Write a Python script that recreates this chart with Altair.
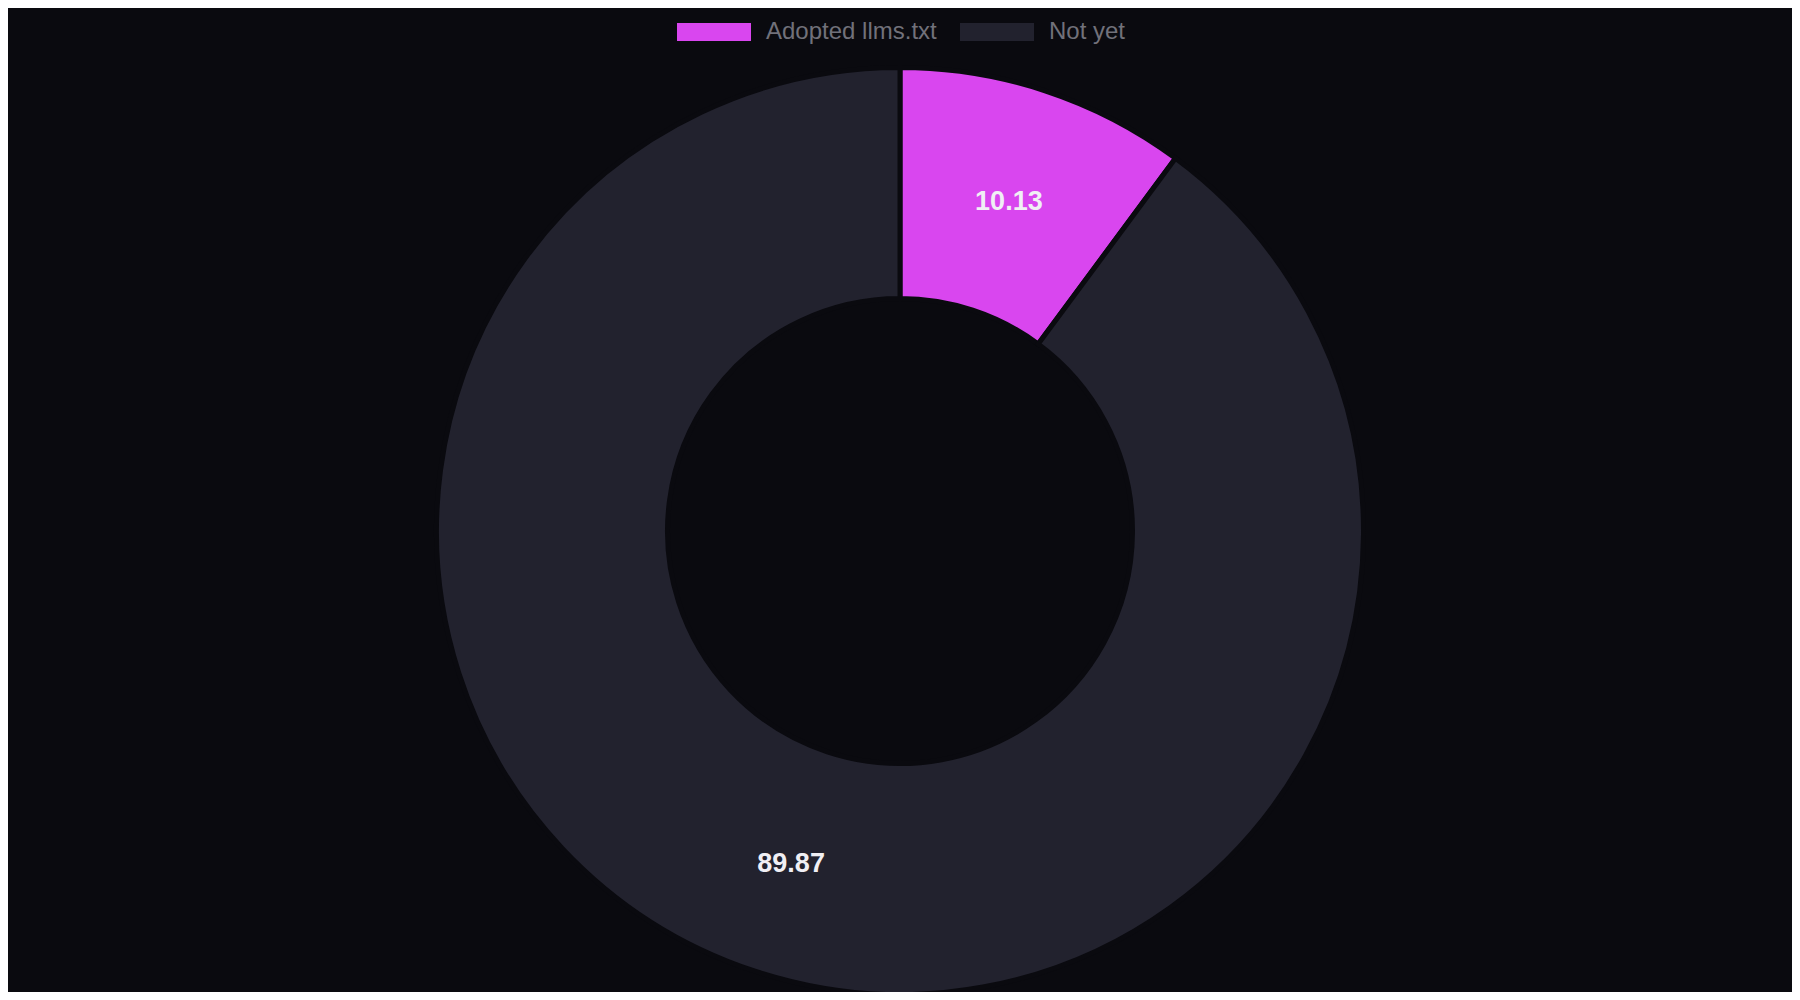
import altair as alt
import pandas as pd

categories = ["Adopted llms.txt", "Not yet"]
values = [10.13, 89.87]
colors = ["#d946ef", "#22222e"]
order = [0, 1]

df = pd.DataFrame({"category": categories, "value": values, "order": order})

BG = "#0a0a0f"
CX, CY = 892, 523

legend = alt.Legend(
    orient="none",
    legendX=669,
    legendY=-13,
    direction="horizontal",
    title=None,
    symbolType="M-1,-0.243H1V0.243H-1Z",
    symbolSize=5476,
    symbolStrokeWidth=0,
    labelFontSize=24,
    labelColor="#71717a",
    labelFont="Liberation Sans",
    labelOffset=15,
    columnPadding=23,
    labelLimit=400,
)

base = alt.Chart(df).encode(
    theta=alt.Theta("value:Q", stack=True),
    order=alt.Order("order:Q"),
    x=alt.value(CX),
    y=alt.value(CY),
)

arcs = base.mark_arc(innerRadius=232.5, outerRadius=463.5, stroke=BG, strokeWidth=5).encode(
    color=alt.Color("category:N", scale=alt.Scale(domain=categories, range=colors), legend=legend)
)

labels = base.mark_text(
    radius=348, dy=2, fontSize=27, fontWeight="bold", color="#f0eff4", font="Liberation Sans"
).encode(text=alt.Text("value:Q", format=".2f"))

chart = (
    (arcs + labels)
    .properties(
        width=1784,
        height=984,
        background=BG,
        padding=0,
        autosize=alt.AutoSizeParams(type="none"),
    )
    .configure_view(stroke=None)
)

chart.save("out.html", embed_options={"renderer": "svg", "actions": False})
